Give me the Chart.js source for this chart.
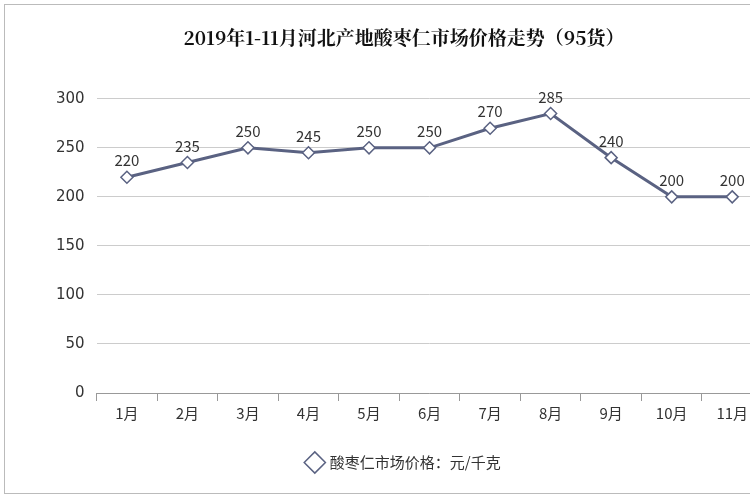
<!DOCTYPE html>
<html><head><meta charset="utf-8">
<script src="https://cdn.jsdelivr.net/npm/chart.js@4/dist/chart.umd.min.js"></script>
<style>html,body{margin:0;padding:0;background:#fff;overflow:hidden}#w{position:absolute;left:0;top:0;width:770px;height:500px}
#f{position:absolute;left:4px;top:4px;width:760px;height:488px;border:1px solid #bbb;pointer-events:none}</style>
</head><body><div id="w"><canvas id="c" width="770" height="500"></canvas></div><div id="f"></div>
<script>
const categories=['1月','2月','3月','4月','5月','6月','7月','8月','9月','10月','11月'];
const prices=[220,235,250,245,250,250,270,285,240,200,200];
const seriesName='酸枣仁市场价格：元/千克';
const labelPlugin={id:'lbl',afterDatasetsDraw(ch){const ctx=ch.ctx;const m=ch.getDatasetMeta(0);ctx.save();ctx.font='15px "Noto Sans CJK SC", "DejaVu Sans"';ctx.fillStyle='#333';ctx.textAlign='center';ctx.textBaseline='bottom';
m.data.forEach((p,i)=>ctx.fillText(prices[i],p.x,p.y-9));ctx.restore();}};
new Chart(document.getElementById('c'),{type:'line',data:{labels:categories,datasets:[{label:seriesName,data:prices,borderColor:'#5a6282',borderWidth:3,pointStyle:'rectRot',pointRadius:6,pointBackgroundColor:'#fff',pointBorderColor:'#5a6282',pointBorderWidth:1.5,tension:0}]},
options:{responsive:false,animation:false,layout:{padding:{left:44,right:6,top:10,bottom:20}},
plugins:{title:{display:true,text:'2019年1-11月河北产地酸枣仁市场价格走势（95货）',font:{family:'"Noto Serif CJK SC","Noto Sans CJK SC",serif',size:19,weight:'bold'},color:'#111',padding:{top:16,bottom:50}},
legend:{position:'bottom',labels:{usePointStyle:true,pointStyle:'rectRot',font:{family:'"Noto Sans CJK SC"',size:15},color:'#333',padding:30}},tooltip:{enabled:false}},
scales:{x:{offset:true,grid:{display:true,drawOnChartArea:false,tickLength:8,color:'#999',offset:true},border:{color:'#999'},ticks:{font:{family:'"Noto Sans CJK SC"',size:15},color:'#333'}},
y:{min:0,max:300,ticks:{stepSize:50,font:{family:'"DejaVu Sans"',size:15},color:'#333',padding:12},grid:{color:'#ccc',drawTicks:false},border:{display:false}}}},
plugins:[labelPlugin]});
</script></body></html>
